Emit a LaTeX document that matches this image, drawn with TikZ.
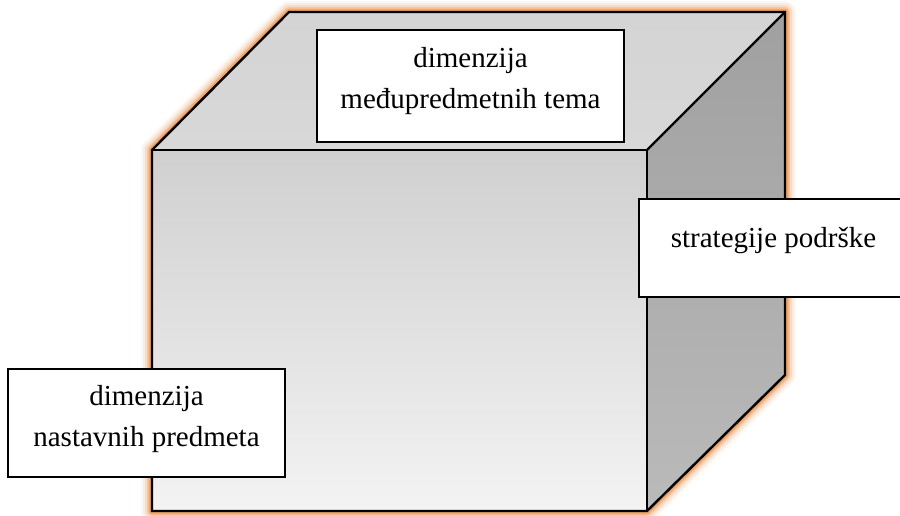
\documentclass[tikz,border=0pt]{standalone}
\usepackage{fontspec}
\setmainfont{Liberation Serif}
\begin{document}
\begin{tikzpicture}[x=1pt,y=-1pt,
  edge/.style={draw=black,line width=2.4pt,line join=miter},
  labelbox/.style={draw=black,line width=2.4pt,fill=white,rectangle,inner sep=0pt},
  labeltext/.style={inner sep=0pt,align=center,font=\fontsize{29}{41}\selectfont}]
\clip (0,0) rectangle (900,515);
\fill[white] (0,0) rectangle (900,515);
% cube corners
\coordinate (ftl) at (152,150);
\coordinate (ftr) at (647,150);
\coordinate (fbl) at (152,511);
\coordinate (fbr) at (647,511);
\coordinate (btl) at (289,12);
\coordinate (btr) at (785,12);
\coordinate (bbr) at (785,375);
% glow
\foreach \w/\o in {22/0.08,18/0.12,14/0.2,10/0.35,7/0.6,5/0.9}{
  \draw[color={rgb,255:red,236;green,160;blue,100},line width=\w pt,opacity=\o,line join=round]
    (ftl) -- (btl) -- (btr) -- (bbr) -- (fbr) -- (fbl) -- cycle;
}
% faces
\shade[top color={rgb,255:red,208;green,208;blue,208},bottom color={rgb,255:red,243;green,243;blue,243}]
  (ftl) -- (ftr) -- (fbr) -- (fbl) -- cycle;
\shade[top color={rgb,255:red,212;green,212;blue,212},bottom color={rgb,255:red,216;green,216;blue,216}]
  (ftl) -- (btl) -- (btr) -- (ftr) -- cycle;
\shade[top color={rgb,255:red,160;green,160;blue,160},bottom color={rgb,255:red,186;green,186;blue,186}]
  (ftr) -- (btr) -- (bbr) -- (fbr) -- cycle;
% edges
\draw[edge] (ftl) -- (btl) -- (btr) -- (bbr) -- (fbr) -- (fbl) -- cycle;
\draw[edge] (ftl) -- (ftr) -- (fbr);
\draw[edge] (ftr) -- (btr);
% label boxes
\node[labelbox,minimum width=307pt,minimum height=112pt] (tbox) at (470.5,86) {};
\node[labeltext] (ttext) at (470.5,80.7) {dimenzija\\međupredmetnih tema};
\node[labelbox,minimum width=271pt,minimum height=98pt] (rbox) at (774.5,248) {};
\node[labeltext] (rtext) at (773.5,240.2) {strategije podrške};
\node[labelbox,minimum width=277pt,minimum height=108pt] (lbox) at (146.5,423) {};
\node[labeltext] (ltext) at (146.5,418.7) {dimenzija\\nastavnih predmeta};
\end{tikzpicture}
\end{document}
